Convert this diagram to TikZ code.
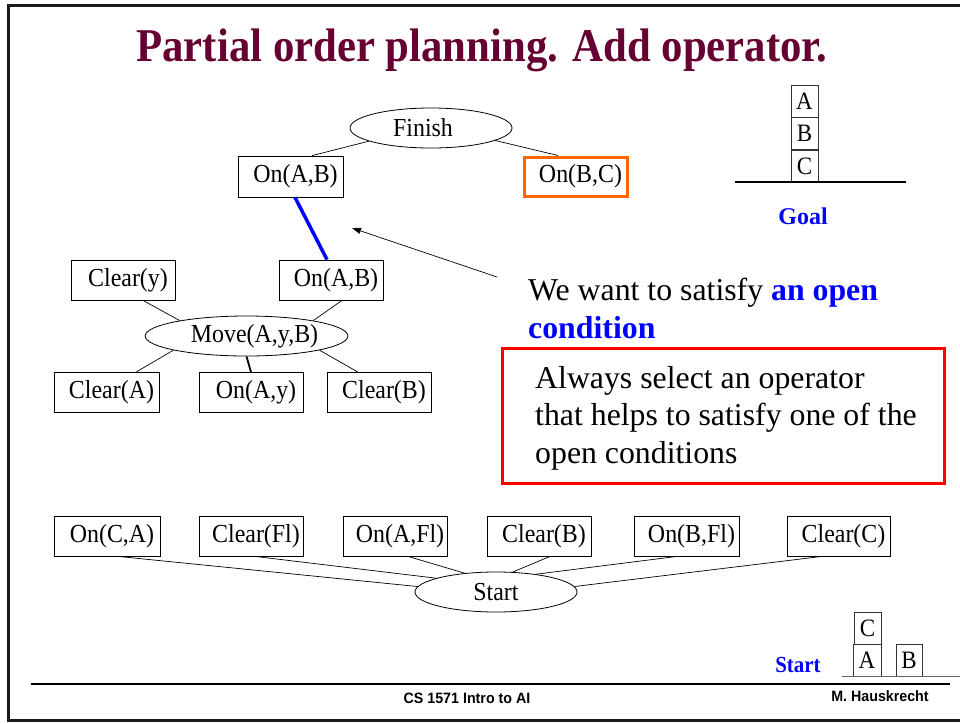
\documentclass[tikz,border=0pt]{standalone}
\usepackage{fontspec}
\setmainfont{Liberation Serif}
\newfontfamily\footfont[FakeStretch=0.95]{Liberation Sans}
\newfontfamily\titlefont[FakeStretch=0.91]{Liberation Serif}
\newfontfamily\nodefont[FakeStretch=0.92]{Liberation Serif}
\usetikzlibrary{shapes.geometric,calc,arrows.meta}
\definecolor{titlecol}{HTML}{660033}
\definecolor{linkblue}{HTML}{0000FF}
\definecolor{openorange}{HTML}{FF6600}
\definecolor{rulered}{HTML}{FF0000}
\definecolor{framegray}{HTML}{1A1A1A}
\begin{document}
\begin{tikzpicture}[x=1pt,y=-1pt,
  txt/.style={font=\nodefont\fontsize{26}{30}\selectfont, inner sep=0pt},
  cond/.style={txt, draw, line width=0.8pt, rectangle, minimum width=104pt,
    minimum height=40pt, execute at begin node=\hspace*{10pt}},
  oper/.style={txt, draw, line width=0.8pt, ellipse, minimum width=162pt,
    minimum height=40pt},
  link/.style={line width=0.7pt},
  block/.style={draw=black!80, line width=0.8pt, rectangle, inner sep=0pt,
    minimum width=27pt, minimum height=32pt, font=\nodefont\fontsize{25}{28}\selectfont},
  big/.style={font=\fontsize{31.8}{37}\selectfont, inner sep=0pt, anchor=base west},
  foot/.style={font=\footfont\bfseries\fontsize{15}{17}\selectfont, inner sep=0pt, anchor=base}
]
\useasboundingbox (0,0) rectangle (960,723);

% slide frame and footer rule
\draw[framegray, line width=3pt] (960,5) -- (8,5) -- (8,720) -- (960,720);
\draw[line width=2.5pt] (31,684) -- (950,684);

% title
\node[font=\titlefont\bfseries\fontsize{47}{52}\selectfont, text=titlecol, inner sep=0pt, anchor=base]
  (title) at (482,61) {Partial order planning. Add operator.};

% plan: Finish and its preconditions
\node[oper] (fin) at (431,128) {Finish\hspace*{16pt}};
\node[cond, minimum width=105pt, minimum height=41pt] (ab) at (290.5,176.5) {On(A,B)};
\node[cond, draw=openorange, line width=3pt, minimum width=103pt, minimum height=39pt] (bc) at (575.5,176.5) {On(B,C)};
\draw[link] (fin.192) -- ($(ab.north)+(21.5,0)$);
\draw[link] (fin.349) -- ($(bc.north)+(-17.5,0)$);

% new operator Move(A,y,B)
\node[cond] (cy) at (123,280) {Clear(y)};
\node[cond] (ab2) at (331,280) {On(A,B)};
\node[oper, minimum width=161pt] (mv) at (246.5,336) {\hspace*{16pt}Move(A,y,B)};
\node[cond, minimum width=105pt] (ca) at (106.5,392.5) {Clear(A)};
\node[cond] (oay) at (251,392.5) {On(A,y)};
\node[cond] (cb) at (379,392.5) {Clear(B)};
\draw[link] ($(cy.south)+(20,0)$) -- (mv.167);
\draw[link] ($(ab2.south)+(11,0)$) -- (mv.13.5);
\draw[link] (mv.191) -- ($(ca.north)+(29.5,0)$);
\draw[line width=1.8pt] (mv.south) -- (oay.north);
\draw[link] (mv.349.6) -- ($(cb.north)+(-21,0)$);

% causal link that closes the open condition
\draw[linkblue, line width=3.5pt] ($(ab.south)+(4.5,0)$) -- ($(ab2.north)+(-4,0)$);

% comment text and arrow
\node[big] (we1) at (528,300) {We want to satisfy \textcolor{linkblue}{\bfseries an open}};
\node[big, text=linkblue, font=\bfseries\fontsize{31.8}{37}\selectfont] (we2) at (528,338) {condition};
\coordinate (arrtail) at (497,277);
\coordinate (arrtip) at (352,228);
\draw[line width=0.7pt, -{Triangle[length=9pt,width=6pt]}] (arrtail) -- (arrtip);

% rule box
\node[draw=rulered, line width=3pt, rectangle, inner sep=0pt,
  minimum width=442pt, minimum height=135pt] (rule) at (723,415.5) {};
\node[big] (r1) at (535,388) {Always select an operator};
\node[big] (r2) at (535,425.5) {that helps to satisfy one of the};
\node[big] (r3) at (535,463) {open conditions};

% goal state
\node[block] (ga) at (804.5,101) {A};
\node[block] (gb) at (804.5,133.5) {B};
\node[block] (gc) at (804.5,166) {C};
\draw[line width=1.2pt] (735,182) -- (906,182);
\node[font=\bfseries\fontsize{24}{28}\selectfont, text=linkblue, inner sep=0pt] (goal) at (803,216) {Goal};

% plan: Start and its effects
\node[cond, minimum width=106pt] (oca) at (107,536) {On(C,A)};
\node[cond] (cfl) at (251,536) {Clear(Fl)};
\node[cond] (oafl) at (395,536) {On(A,Fl)};
\node[cond] (cb2) at (539,536) {Clear(B)};
\node[cond, minimum width=105pt] (obfl) at (686.5,536) {On(B,Fl)};
\node[cond, minimum width=103pt] (cc) at (838.5,536) {Clear(C)};
\node[oper] (st) at (496,592) {Start};
\draw[link] ($(oca.south)+(11,0)$) -- (st.176);
\draw[link] ($(cfl.south)+(4,0)$) -- (st.167);
\draw[link] ($(oafl.south)+(13,0)$) -- (st.149);
\draw[link] ($(cb2.south)+(11,0)$) -- (st.50);
\draw[link] ($(obfl.south)+(-9.5,0)$) -- (st.24);
\draw[link] ($(cc.south)+(-16.5,0)$) -- (st.4);

% start state
\node[block] (sc) at (867.5,628) {C};
\node[block, minimum width=28pt] (sa) at (867,660) {A};
\node[block, minimum width=26pt] (sb) at (909,660) {B};
\draw[black!60, line width=1pt] (842,676) -- (960,676);
\node[font=\titlefont\bfseries\fontsize{23}{26}\selectfont, text=linkblue, inner sep=0pt, anchor=base] (startlbl) at (798,672) {Start};

% footer
\node[foot] (course) at (467,703) {CS 1571 Intro to AI};
\node[foot] (author) at (880,701) {M. Hauskrecht};
\end{tikzpicture}
\end{document}
